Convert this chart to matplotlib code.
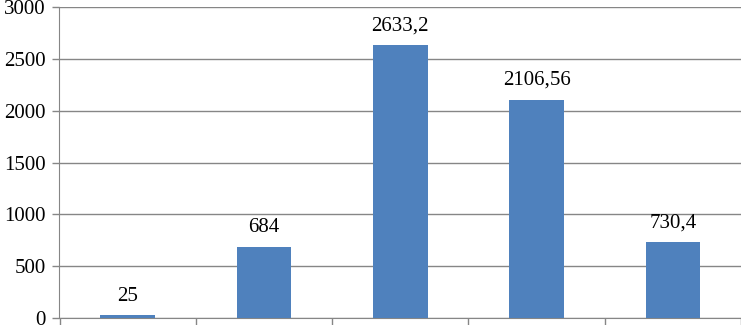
import matplotlib.pyplot as plt
import numpy as np

categories = ["1", "2", "3", "4", "5"]
values = [25, 684, 2633.2, 2106.56, 730.4]
labels = ["25", "684", "2633,2", "2106,56", "730,4"]
yticks = [0, 500, 1000, 1500, 2000, 2500, 3000]

plt.rcParams["font.family"] = ["Liberation Serif", "DejaVu Serif"]

fig = plt.figure(figsize=(7.41, 3.25), dpi=100)
ax = fig.add_axes([59.5 / 741, 7 / 325, 1 - 59.5 / 741, 311 / 325])

x = np.arange(len(categories))
bars = ax.bar(x, values, width=0.4, color="#4F81BD", zorder=3)
for b, lab in zip(bars, labels):
    ax.annotate(lab, (b.get_x() + b.get_width() / 2, b.get_height()),
                xytext=(0, 7), textcoords="offset points",
                ha="center", va="bottom", fontsize=15)

ax.set_xlim(-0.5, len(categories) - 0.5)
ax.set_ylim(0, 3000)
ax.set_yticks(yticks)
ax.set_yticklabels([str(t) for t in yticks], fontsize=15)
ax.set_xticks(np.arange(len(categories) + 1) - 0.5)
ax.set_xticklabels([])
ax.grid(axis="y", color="#868686", linewidth=1, zorder=0)
ax.tick_params(axis="both", color="#868686", length=5, width=1)
ax.tick_params(axis="y", pad=5)
for side in ("top", "right"):
    ax.spines[side].set_visible(False)
for side in ("left", "bottom"):
    ax.spines[side].set_color("#868686")

fig.savefig("out.png", dpi=100)
